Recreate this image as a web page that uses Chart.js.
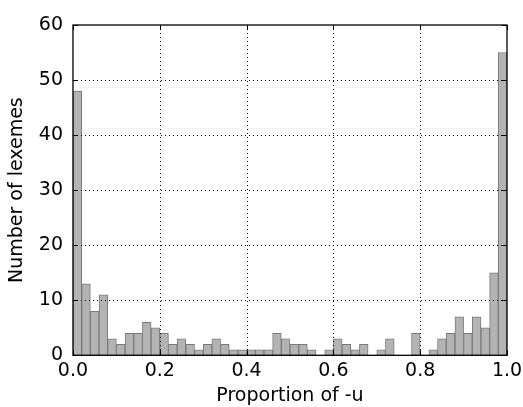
<!DOCTYPE html>
<html><head><meta charset="utf-8">
<script src="https://cdn.jsdelivr.net/npm/chart.js@4/dist/chart.umd.min.js"></script>
<style>html,body{margin:0;padding:0;background:#fff}canvas{display:block}</style>
</head><body>
<canvas id="c" width="523" height="407"></canvas>
<script>
// Histogram: 50 bins of width 0.02 on [0,1]
const binStarts = Array.from({length: 50}, (_, i) => i / 50);
const counts = [48,13,8,11,3,2,4,4,6,5,
                4,2,3,2,1,2,3,2,1,1,
                1,1,1,4,3,2,2,1,0,1,
                3,2,1,2,0,1,3,0,0,4,
                0,1,3,4,7,4,7,5,15,55];
const xTicks = [0, 0.2, 0.4, 0.6, 0.8, 1.0];
const yTicks = [0, 10, 20, 30, 40, 50, 60];
const xTitle = 'Proportion of -u';
const yTitle = 'Number of lexemes';
const binWidth = 0.02;

const points = binStarts.map((s, i) => ({x: s + binWidth / 2, y: counts[i]}));

const frame = {
  id: 'frame',
  afterDatasetsDraw(chart) {
    const {ctx, chartArea: a, scales: {x, y}} = chart;
    ctx.save();
    ctx.strokeStyle = '#000';
    ctx.lineWidth = 1;
    ctx.setLineDash([1, 3]);
    xTicks.forEach(v => {
      const px = Math.round(x.getPixelForValue(v)) + 0.5;
      if (px <= a.left + 1 || px >= a.right - 1) return;
      ctx.beginPath(); ctx.moveTo(px, a.top); ctx.lineTo(px, a.bottom); ctx.stroke();
    });
    yTicks.forEach(v => {
      const py = Math.round(y.getPixelForValue(v)) + 0.5;
      if (py <= a.top + 1 || py >= a.bottom - 1) return;
      ctx.beginPath(); ctx.moveTo(a.left, py); ctx.lineTo(a.right, py); ctx.stroke();
    });
    ctx.setLineDash([]);
    const tl = 5;
    xTicks.forEach(v => {
      const px = Math.round(x.getPixelForValue(v)) + 0.5;
      ctx.beginPath();
      ctx.moveTo(px, a.bottom); ctx.lineTo(px, a.bottom - tl);
      ctx.moveTo(px, a.top); ctx.lineTo(px, a.top + tl);
      ctx.stroke();
    });
    yTicks.forEach(v => {
      const py = Math.round(y.getPixelForValue(v)) + 0.5;
      ctx.beginPath();
      ctx.moveTo(a.left, py); ctx.lineTo(a.left + tl, py);
      ctx.moveTo(a.right, py); ctx.lineTo(a.right - tl, py);
      ctx.stroke();
    });
    ctx.lineWidth = 1.3;
    ctx.strokeRect(a.left, a.top, a.right - a.left, a.bottom - a.top);
    ctx.restore();
  }
};

new Chart(document.getElementById('c'), {
  type: 'bar',
  data: {
    datasets: [{
      data: points,
      backgroundColor: '#b3b3b3',
      borderColor: '#7a7a7a',
      borderWidth: 1,
      barPercentage: 1,
      categoryPercentage: 1,
      borderSkipped: false
    }]
  },
  options: {
    responsive: false,
    animation: false,
    events: [],
    layout: {padding: {left: 6, right: 16, top: 25, bottom: 0}},
    plugins: {legend: {display: false}, tooltip: {enabled: false}},
    scales: {
      x: {
        type: 'linear',
        min: 0, max: 1,
        offset: false,
        grid: {display: false, drawTicks: false},
        border: {display: false},
        afterBuildTicks(s) { s.ticks = xTicks.map(v => ({value: v})); },
        afterFit(s) { s.paddingRight = 0; s.paddingLeft = 0; },
        ticks: {
          color: '#000', padding: 4, maxRotation: 0,
          font: {family: 'DejaVu Sans', size: 19},
          callback: v => Number(v).toFixed(1)
        },
        title: {display: true, text: xTitle, color: '#000',
                font: {family: 'DejaVu Sans', size: 19, lineHeight: 1.1}, padding: {top: 0, bottom: 0}}
      },
      y: {
        min: 0, max: 60,
        grid: {display: false, drawTicks: false},
        border: {display: false},
        afterBuildTicks(s) { s.ticks = yTicks.map(v => ({value: v})); },
        ticks: {
          color: '#000', padding: 10,
          font: {family: 'DejaVu Sans', size: 19},
          callback: v => String(v)
        },
        title: {display: true, text: yTitle, color: '#000',
                font: {family: 'DejaVu Sans', size: 19}, padding: {top: 0, bottom: 0}}
      }
    }
  },
  plugins: [frame]
});
</script>
</body></html>
